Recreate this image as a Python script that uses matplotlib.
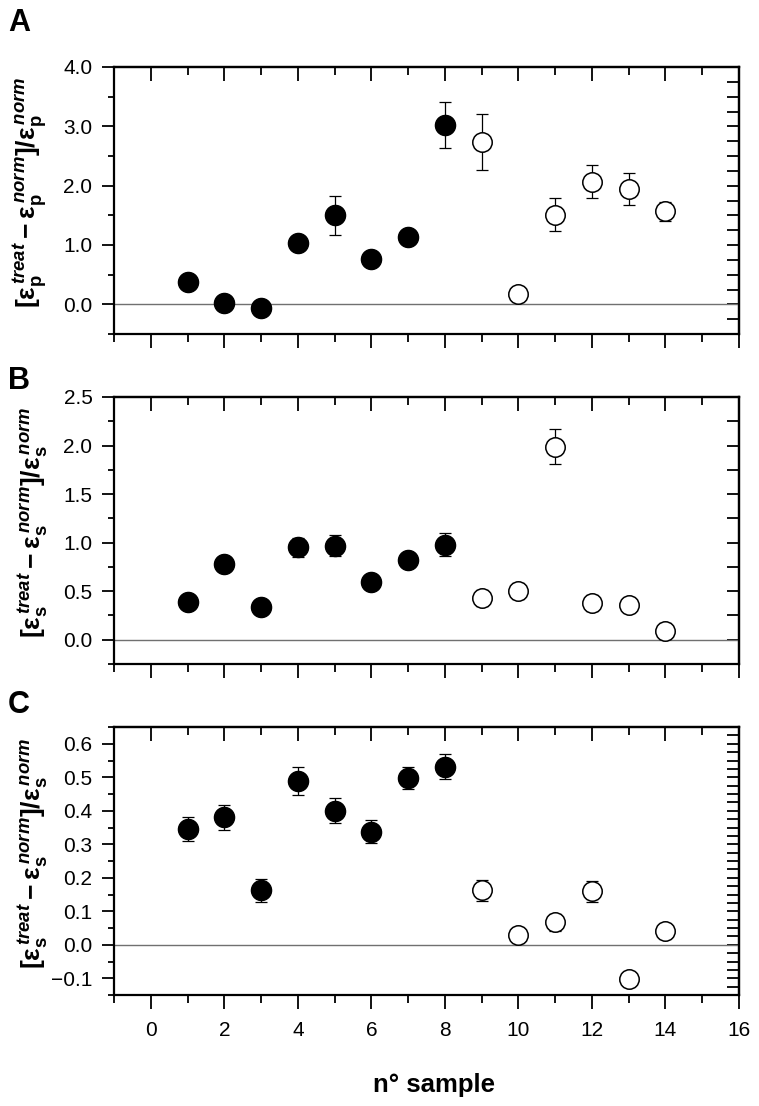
import numpy as np
import matplotlib
matplotlib.use('Agg')
import matplotlib.pyplot as plt
from matplotlib.ticker import MultipleLocator, FuncFormatter, NullLocator

plt.rcParams['font.family'] = 'Liberation Sans'
plt.rcParams['mathtext.fontset'] = 'custom'
plt.rcParams['mathtext.rm'] = 'Liberation Sans:bold'
plt.rcParams['mathtext.it'] = 'Liberation Sans:bold:italic'
plt.rcParams['mathtext.bf'] = 'Liberation Sans:bold'

# sample numbers
x_filled = [1, 2, 3, 4, 5, 6, 7, 8]
x_open = [9, 10, 11, 12, 13, 14]

# panel A
a_filled = [0.37, 0.03, -0.07, 1.04, 1.50, 0.76, 1.14, 3.02]
a_filled_err = [0.05, 0.05, 0.05, 0.05, 0.33, 0.05, 0.05, 0.39]
a_open = [2.74, 0.18, 1.51, 2.07, 1.95, 1.57]
a_open_err = [0.47, 0.12, 0.28, 0.27, 0.27, 0.16]

# panel B
b_filled = [0.39, 0.78, 0.34, 0.95, 0.97, 0.59, 0.82, 0.98]
b_filled_err = [0.04, 0.07, 0.04, 0.10, 0.11, 0.04, 0.05, 0.12]
b_open = [0.43, 0.50, 1.99, 0.38, 0.36, 0.09]
b_open_err = [0.08, 0.08, 0.18, 0.08, 0.05, 0.08]

# panel C
c_filled = [0.345, 0.38, 0.162, 0.49, 0.40, 0.338, 0.497, 0.532]
c_filled_err = [0.036, 0.036, 0.034, 0.042, 0.037, 0.035, 0.033, 0.038]
c_open = [0.162, 0.028, 0.067, 0.159, -0.102, 0.040]
c_open_err = [0.032, 0.02, 0.025, 0.03, 0.02, 0.02]

panels = [
    ('A', 'p', a_filled, a_filled_err, a_open, a_open_err, (-0.5, 4.0), 1.0, 0.5, 0.25),
    ('B', 's', b_filled, b_filled_err, b_open, b_open_err, (-0.25, 2.5), 0.5, 0.25, 0.25),
    ('C', 's', c_filled, c_filled_err, c_open, c_open_err, (-0.15, 0.65), 0.1, 0.05, 0.025),
]

W, H = 759, 1106
fig = plt.figure(figsize=(W / 100, H / 100), dpi=100)

ax_left = 114 / W
ax_w = (739 - 114) / W
tops = [67, 397, 727]
bots = [334, 664, 995]
letter_y = [8, 366, 690]

fmt = FuncFormatter(lambda v, p: ('%.1f' % v).replace('-', '\u2212'))

for i, (lab, sub, yf, ef, yo, eo, ylim, major, minor, right_step) in enumerate(panels):
    ax = fig.add_axes([ax_left, 1 - bots[i] / H, ax_w, (bots[i] - tops[i]) / H])
    ax.axhline(0, color='#707070', lw=1, zorder=1)
    ax.errorbar(x_filled, yf, yerr=ef, fmt='none', ecolor='black', elinewidth=0.9,
                capsize=4.5, capthick=0.9, zorder=2)
    ax.errorbar(x_open, yo, yerr=eo, fmt='none', ecolor='black', elinewidth=0.9,
                capsize=4.5, capthick=0.9, zorder=2)
    ax.plot(x_filled, yf, 'o', ms=14.5, mfc='black', mec='black', zorder=3)
    ax.plot(x_open, yo, 'o', ms=14, mfc='white', mec='black', mew=1.1, zorder=3)

    ax.set_xlim(-1, 16)
    ax.set_ylim(*ylim)
    for s in ax.spines.values():
        s.set_linewidth(1.6)

    ax.xaxis.set_major_locator(MultipleLocator(2))
    ax.xaxis.set_minor_locator(MultipleLocator(1))
    ax.yaxis.set_major_locator(MultipleLocator(major))
    ax.yaxis.set_minor_locator(MultipleLocator(minor))
    ax.yaxis.set_major_formatter(fmt)
    ax.tick_params(axis='y', which='major', direction='out', length=8.5, width=1.3,
                   labelsize=15, pad=7)
    ax.tick_params(axis='y', which='minor', direction='out', length=4.5, width=1.3)
    ax.tick_params(axis='x', which='major', direction='out', length=10, width=1.3,
                   labelsize=15, pad=9)
    ax.tick_params(axis='x', which='minor', direction='out', length=6, width=1.3)
    if i < 2:
        ax.tick_params(axis='x', labelbottom=False)

    top = ax.secondary_xaxis('top')
    top.xaxis.set_major_locator(MultipleLocator(2))
    top.xaxis.set_minor_locator(MultipleLocator(1))
    top.tick_params(which='major', direction='in', length=10, width=1.3, labeltop=False)
    top.tick_params(which='minor', direction='in', length=6, width=1.3)
    top.spines['top'].set_linewidth(1.6)

    right = ax.secondary_yaxis('right')
    right.yaxis.set_major_locator(MultipleLocator(right_step))
    right.yaxis.set_minor_locator(NullLocator())
    right.tick_params(which='major', direction='in', length=9, width=1.3, labelright=False)
    right.spines['right'].set_linewidth(1.6)

    ylab = (r'$[\mathrm{\varepsilon}_\mathrm{%s}^{\,treat} - \mathrm{\varepsilon}_\mathrm{%s}^{\,norm}]'
            r'/\mathrm{\varepsilon}_\mathrm{%s}^{\,norm}$' % (sub, sub, sub))
    ax.set_ylabel(ylab, fontsize=19)
    ax.yaxis.set_label_coords(-0.102, 0.53)

    fig.text(8 / W, 1 - letter_y[i] / H, lab, fontsize=22, fontweight='bold', va='top', ha='left')

fig.text(434 / W, 1 - 1085 / H, 'n° sample', fontsize=18.5, fontweight='bold',
         ha='center', va='center')

fig.savefig('out.png', dpi=100)
